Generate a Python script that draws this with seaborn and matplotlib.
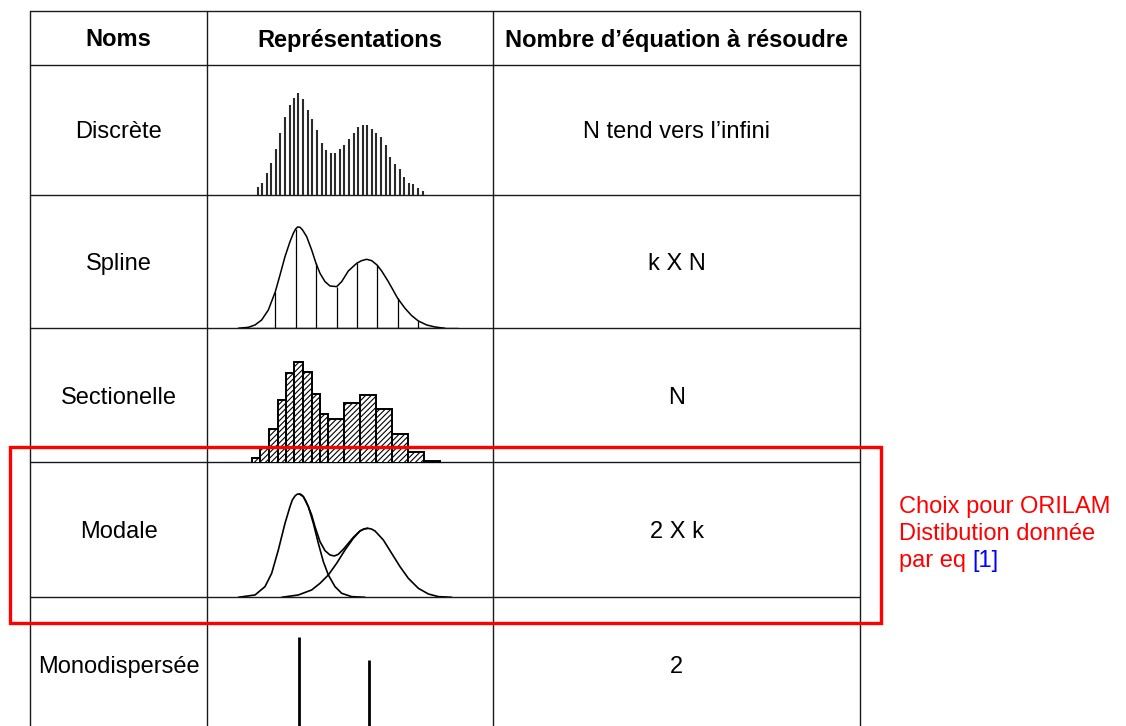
import numpy as np
import matplotlib.pyplot as plt
import seaborn as sns
from matplotlib.patches import Rectangle

sns.set_theme(style="white")
plt.rcParams['font.family'] = ['Liberation Sans', 'DejaVu Sans']
plt.rcParams['hatch.linewidth'] = 0.8

# --- table text ---
headers = ['Noms', 'Représentations', 'Nombre d’équation à résoudre']
names = ['Discrète', 'Spline', 'Sectionelle', 'Modale', 'Monodispersée']
equations = ['N tend vers l’infini', 'k X N', 'N', '2 X k', '2']
note_lines = ['Choix pour ORILAM', 'Distibution donnée', 'par eq']
note_ref = '[1]'

# --- sketch data (arbitrary units) ---
disc_x = [158, 172, 186, 198, 212, 226, 240, 254, 267, 280, 294, 308, 322, 336, 350, 363, 377,
          390, 404, 418, 432, 446, 460, 473, 486, 500, 514, 528, 542, 556, 570, 584, 598, 612,
          625, 640, 654]
disc_h = [25, 37, 67, 97, 137, 187, 233, 269, 292, 305, 287, 255, 227, 195, 155, 135, 127,
          127, 137, 150, 168, 187, 205, 210, 210, 197, 187, 175, 150, 115, 92, 77, 55, 37,
          32, 20, 12]

spline_x = [100, 130, 150, 170, 190, 211, 225, 240, 255, 265, 272, 278, 285, 292, 305, 320, 333,
            345, 360, 375, 395, 410, 430, 455, 470, 485, 500, 516, 530, 550, 578, 600, 620, 640,
            665, 690, 720]
spline_h = [0, 3, 10, 25, 55, 110, 160, 215, 260, 285, 298, 304, 303, 296, 275, 235, 195,
            165, 140, 127, 125, 140, 172, 195, 203, 207, 203, 190, 172, 140, 90, 60, 38, 22,
            10, 4, 0]
knot_x = [211, 272, 333, 395, 455, 516, 578, 640]
knot_h = [110, 298, 195, 125, 195, 190, 90, 22]

sect_edges = [140, 165, 192, 218, 243, 268, 295, 320, 345, 370, 418, 465, 513, 562, 610, 658, 705]
sect_h = [15, 48, 102, 187, 268, 302, 273, 206, 147, 130, 178, 203, 160, 85, 31, 6]

mode1_x = [100, 150, 180, 200, 220, 240, 255, 262, 270, 276, 283, 289, 295, 302, 310, 325, 340,
           355, 370, 390, 410, 440, 480]
mode1_h = [0, 7, 32, 72, 142, 222, 272, 292, 304, 309, 310, 308, 302, 290, 272, 222, 162,
           107, 67, 32, 12, 2, 0]
mode2_x = [230, 280, 320, 345, 370, 395, 420, 445, 465, 477, 488, 499, 510, 535, 560, 585, 610,
           640, 670, 700, 740]
mode2_h = [0, 7, 22, 42, 67, 102, 142, 177, 199, 205, 207, 205, 199, 172, 132, 92, 57,
           27, 10, 2, 0]
sum_x = [283, 295, 310, 320, 330, 345, 360, 375, 388, 400, 415, 430, 445, 465, 477, 488]
sum_h = [310, 302, 272, 247, 212, 167, 140, 127, 124, 129, 144, 162, 180, 199, 205, 207]

mono_x = [283, 492]
mono_h = [295, 225]

W, H = 1126, 726
fig = plt.figure(figsize=(W / 100, H / 100), dpi=100)

# background axes in pixel coords
bg = fig.add_axes([0, 0, 1, 1])
bg.set_xlim(0, W)
bg.set_ylim(H, 0)
bg.axis('off')

cols_x = [30, 207, 493, 860]
rows_y = [11, 65, 195, 328, 462, 597]
line_kw = dict(color='#1a1a1a', lw=1.0)
for x in cols_x:
    bg.plot([x, x], [11, H + 5], **line_kw)
for y in rows_y:
    bg.plot([30, 860], [y, y], **line_kw)

col_c = [(cols_x[i] + cols_x[i + 1]) / 2 for i in range(3)]
for c, t in zip(col_c, headers):
    bg.text(c, 46.5, t, fontsize=17, fontweight='bold', ha='center', va='baseline', color='black')

row_base = [138.5, 270, 403.5, 538.3, 673]
for y, n, e in zip(row_base, names, equations):
    bg.text(col_c[0], y, n, fontsize=17, ha='center', va='baseline', color='black')
    bg.text(col_c[2], y, e, fontsize=17, ha='center', va='baseline', color='black')


def sketch_ax(top, base):
    a = fig.add_axes([205 / W, 1 - base / H, 290 / W, (base - top) / H])
    a.set_xlim(0, 870)
    a.set_ylim(0, (base - top) * 3)
    a.set_facecolor('none')
    a.axis('off')
    return a


# Discrète
a1 = sketch_ax(65, 195)
a1.vlines(disc_x, 0, disc_h, color='#2a2a2a', lw=1.5)

# Spline
a2 = sketch_ax(195, 328.3)
sns.lineplot(x=spline_x, y=spline_h, ax=a2, color='black', lw=1.1, sort=False, estimator=None)
a2.vlines(knot_x, 0, knot_h, color='black', lw=0.9)
a2.plot([100, 760], [0, 0], color='black', lw=1.0)

# Sectionelle
a3 = sketch_ax(328, 462.7)
sect_c = [(sect_edges[i] + sect_edges[i + 1]) / 2 for i in range(len(sect_h))]
sns.histplot(x=sect_c, weights=sect_h, bins=sect_edges, ax=a3, color='white',
             edgecolor='black', linewidth=1.4, hatch='//////', alpha=1)
a3.set_ylim(0, (462.7 - 328) * 3)
a3.plot([60, 850], [0, 0], color='black', lw=1.0)
a3.axis('off')

# Modale
a4 = sketch_ax(462, 597.3)
for xs, hs in [(mode1_x, mode1_h), (mode2_x, mode2_h), (sum_x, sum_h)]:
    sns.lineplot(x=xs, y=hs, ax=a4, color='black', lw=1.2, sort=False, estimator=None)

# Monodispersée
a5 = sketch_ax(597, 735)
a5.vlines(mono_x, 0, mono_h, color='black', lw=2.0)

# overlay: red frame and note
ov = fig.add_axes([0, 0, 1, 1])
ov.set_xlim(0, W)
ov.set_ylim(H, 0)
ov.set_facecolor('none')
ov.axis('off')
ov.add_patch(Rectangle((10, 447), 871, 176, fill=False, edgecolor='#ff0000', lw=2.4))
note_base = [513, 540, 567]
txt = None
for y, t in zip(note_base, note_lines):
    txt = ov.text(899, y, t, fontsize=17, color='#ff0000', ha='left', va='baseline')
ov.annotate(note_ref, xy=(1, 0), xycoords=txt, xytext=(4.7, 0), textcoords='offset points',
            fontsize=17, color='#0000ff', ha='left', va='bottom')

plt.savefig('out.png', dpi=100)
